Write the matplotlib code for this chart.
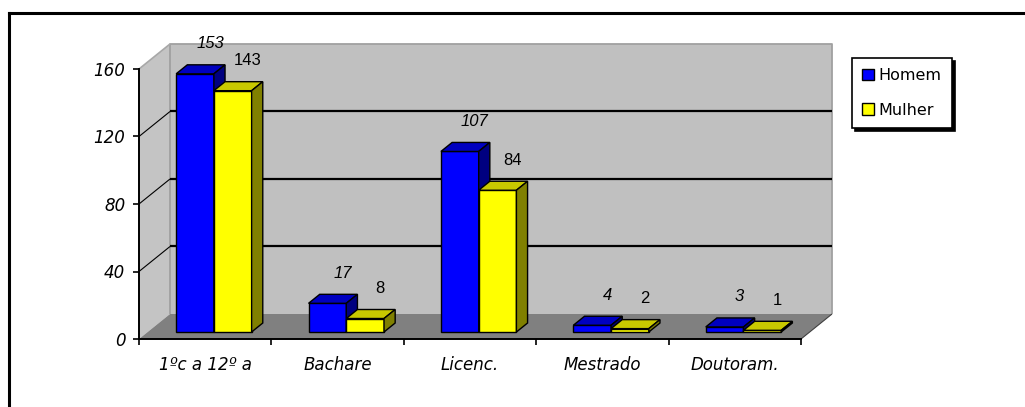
import matplotlib
matplotlib.use("Agg")
import matplotlib.pyplot as plt
from matplotlib.patches import Polygon, Patch
from matplotlib.lines import Line2D

# Data
categories = ["1ºc a 12º a", "Bachare", "Licenc.", "Mestrado", "Doutoram."]
homem = [153, 17, 107, 4, 3]
mulher = [143, 8, 84, 2, 1]
series_names = ["Homem", "Mulher"]
y_ticks = [0, 40, 80, 120, 160]

W, H = 1025, 407
fig = plt.figure(figsize=(W / 100, H / 100), dpi=100)
fig.patch.set_facecolor("white")

# Front plane of the pseudo-3D chart
ax = fig.add_axes([139 / W, (H - 339) / H, 662 / W, 270 / H])
ax.set_xlim(0, 5)
ax.set_ylim(0, 160)
ax.patch.set_visible(False)

# depth vector (31 px right, 25 px up) expressed in data units
DX = 31 / (662 / 5)
DZ = 25 * 160 / 270


def proj(x, z, d):
    return (x + d * DX, z + d * DZ)


def poly(pts, fc, ec="none", lw=1.0, zorder=1):
    p = Polygon([proj(*q) for q in pts], closed=True, facecolor=fc,
                edgecolor=ec, linewidth=lw, zorder=zorder, clip_on=False,
                joinstyle="miter")
    ax.add_patch(p)


def seg(pts, color="black", lw=1.0, zorder=1.5):
    xs, ys = zip(*[proj(*q) for q in pts])
    ax.add_line(Line2D(xs, ys, color=color, lw=lw, zorder=zorder,
                       clip_on=False, solid_capstyle="butt"))


ymax = y_ticks[-1]
n = len(categories)

# Walls and floor
poly([(0, 0, 0), (0, 0, 1), (0, ymax, 1), (0, ymax, 0)], "#c4c4c4", zorder=0.5)
poly([(0, 0, 1), (n, 0, 1), (n, ymax, 1), (0, ymax, 1)], "#c0c0c0", zorder=0.5)
poly([(0, 0, 0), (n, 0, 0), (n, 0, 1), (0, 0, 1)], "#808080", zorder=0.6)
seg([(0, 0, 1), (0, ymax, 1), (n, ymax, 1), (n, 0, 1)], color="#a0a0a0", lw=1.3, zorder=0.7)
seg([(0, ymax, 0), (0, ymax, 1)], color="#a8a8a8", lw=1.2, zorder=0.7)
seg([(n, 0, 0), (n, 0, 1)], color="#404040", lw=0.8, zorder=0.7)

# Gridlines across the side and back walls
for v in y_ticks[1:-1]:
    seg([(0, v, 0), (0, v, 1)], color="black", lw=0.8, zorder=0.8)
    seg([(0, v, 1), (n, v, 1)], color="black", lw=1.6, zorder=0.8)

# Bars
bw = 0.285
d0, d1 = 0.28, 0.64
styles = [
    dict(front="#0000ff", top="#0000c0", side="#000080"),
    dict(front="#ffff00", top="#c8c800", side="#808000"),
]
label_fonts = [dict(family="Liberation Sans", style="italic"),
               dict(family="Liberation Sans", style="normal")]
z = 3
for i in range(n):
    for j, vals in enumerate([homem, mulher]):
        v = vals[i]
        x0 = i + 0.5 - bw + j * bw
        x1 = x0 + bw
        st = styles[j]
        poly([(x0, 0, d0), (x1, 0, d0), (x1, v, d0), (x0, v, d0)], st["front"], "black", 1.0, z)
        poly([(x0, v, d0), (x1, v, d0), (x1, v, d1), (x0, v, d1)], st["top"], "black", 1.0, z)
        poly([(x1, 0, d0), (x1, 0, d1), (x1, v, d1), (x1, v, d0)], st["side"], "black", 1.0, z)
        z += 1
        ax.annotate(str(v), xy=proj((x0 + x1) / 2, v, d0),
                    xytext=(15 * 0.72, 30 * 0.72), textcoords="offset points",
                    ha="center", va="center", fontsize=12, annotation_clip=False,
                    zorder=20, **label_fonts[j])

# Axes, ticks and labels
for s in ["top", "right"]:
    ax.spines[s].set_visible(False)
for s in ["left", "bottom"]:
    ax.spines[s].set_linewidth(1.4)
    ax.spines[s].set_zorder(2.5)

ax.set_yticks(y_ticks)
ax.set_yticklabels([str(t) for t in y_ticks], fontsize=12, fontstyle="italic",
                   fontfamily="DejaVu Sans")
ax.tick_params(axis="y", direction="out", length=4.3, width=1.2, pad=5.5)

ax.set_xticks(range(n + 1))
ax.set_xticklabels([])
ax.set_xticks([i + 0.5 for i in range(n)], minor=True)
ax.set_xticklabels(categories, minor=True, fontsize=12, fontstyle="italic",
                   fontfamily="DejaVu Sans")
ax.tick_params(axis="x", which="major", direction="out", length=4.3, width=1.2)
ax.tick_params(axis="x", which="minor", length=0, pad=12.5)

# Legend
handles = [Patch(facecolor=styles[k]["front"], edgecolor="black", linewidth=1.0)
           for k in range(2)]
leg = fig.legend(handles, series_names, loc="upper left",
                 bbox_to_anchor=(852 / W, 1 - 58 / H), bbox_transform=fig.transFigure,
                 frameon=True, fancybox=False, shadow={"color": "black", "alpha": 1},
                 edgecolor="black", framealpha=1,
                 prop=dict(family="DejaVu Sans", size=11.5),
                 handlelength=0.7, handleheight=0.7, handletextpad=0.3,
                 labelspacing=1.2, borderpad=0.65, borderaxespad=0)
leg.get_frame().set_linewidth(1.2)

# Outer frame (top and left edges)
fig.add_artist(Line2D([8.5 / W, 1], [1 - 12.5 / H, 1 - 12.5 / H],
                      transform=fig.transFigure, color="black", lw=2.2))
fig.add_artist(Line2D([8.5 / W, 8.5 / W], [0, 1 - 12.5 / H],
                      transform=fig.transFigure, color="black", lw=2.2))

fig.savefig("out.png", dpi=100, facecolor="white")
